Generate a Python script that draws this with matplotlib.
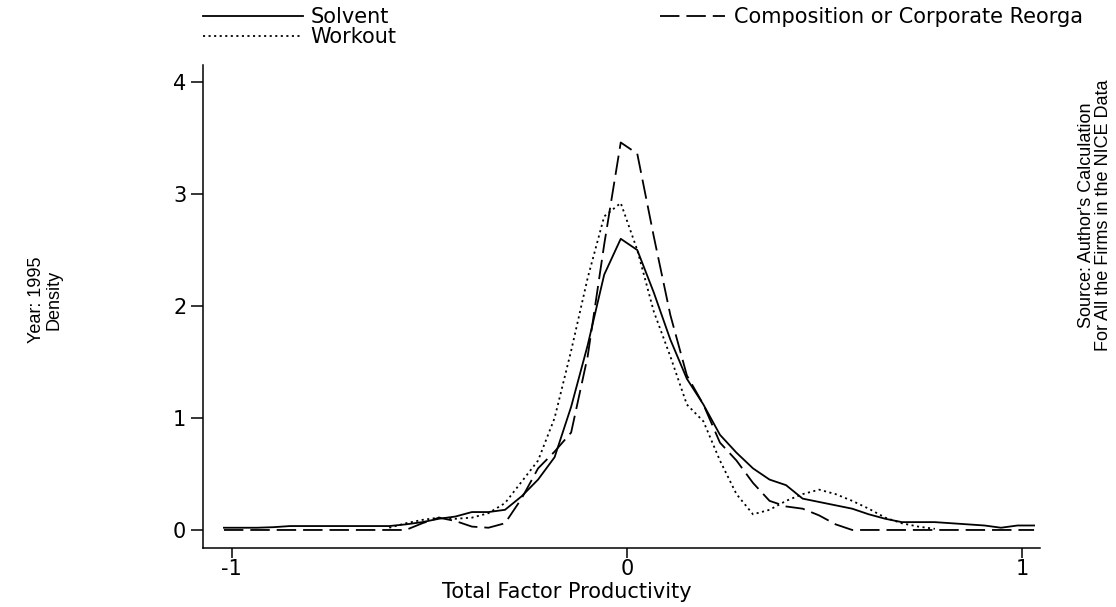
"""Kernel density of TFP by firm status, 1995 (Stata-style line chart)."""

import numpy as np
import matplotlib
matplotlib.use("Agg")
import matplotlib.pyplot as plt

plt.rcParams['font.family'] = ['DejaVu Sans']
plt.rcParams['lines.scale_dashes'] = False

# evaluation grid of the kernel density (50 points, as in Stata's kdensity)
tfp_min, tfp_max, n_points = -1.02, 1.031, 50
nan = float('nan')

solvent = [0.02, 0.02, 0.02, 0.025, 0.035, 0.035, 0.035, 0.035, 0.035, 0.035,
           0.035, 0.05, 0.07, 0.10, 0.12, 0.16, 0.16, 0.18, 0.30, 0.45,
           0.65, 1.10, 1.65, 2.28, 2.60, 2.50, 2.12, 1.70, 1.35, 1.12,
           0.85, 0.69, 0.55, 0.45, 0.40, 0.28, 0.25, 0.22, 0.19, 0.14,
           0.10, 0.07, 0.07, 0.07, 0.06, 0.05, 0.04, 0.02, 0.04, 0.04]

composition = [0.0, 0.0, 0.0, 0.0, 0.0, 0.0, 0.0, 0.0, 0.0, 0.0,
               0.0, 0.0, 0.06, 0.11, 0.08, 0.03, 0.02, 0.06, 0.28, 0.55,
               0.70, 0.87, 1.55, 2.55, 3.46, 3.36, 2.62, 1.92, 1.38, 1.12,
               0.78, 0.62, 0.42, 0.26, 0.21, 0.19, 0.13, 0.05, 0.0, 0.0,
               0.0, 0.0, 0.0, 0.0, 0.0, 0.0, 0.0, 0.0, 0.0, 0.0]

# workout firms cover a narrower TFP range (no estimate outside it)
workout = [nan, nan, nan, nan, nan, nan, nan, nan, nan, nan,
           0.02, 0.06, 0.09, 0.11, 0.10, 0.11, 0.15, 0.24, 0.43, 0.62,
           1.00, 1.60, 2.25, 2.80, 2.92, 2.50, 1.95, 1.55, 1.12, 0.97,
           0.62, 0.32, 0.14, 0.18, 0.26, 0.32, 0.36, 0.32, 0.26, 0.19,
           0.11, 0.06, 0.03, 0.01, nan, nan, nan, nan, nan, nan]

labels = ["Solvent", "Workout", "Composition or Corporate Reorga"]
x_ticks = [-1, 0, 1]
y_ticks = [0, 1, 2, 3, 4]

FS = 15          # horizontal texts (the original is stretched sideways)
FS_V = 13        # rotated texts
LW = 1.3
ARIAL = ['Liberation Sans', 'DejaVu Sans']

tfp = np.linspace(tfp_min, tfp_max, n_points)

fig = plt.figure(figsize=(11.16, 6.07), dpi=100)
ax = fig.add_axes([203 / 1116, 1 - 548 / 607, 837 / 1116, 483 / 607])

l_solv, = ax.plot(tfp, solvent, color='black', lw=LW, linestyle='-')
l_comp, = ax.plot(tfp, composition, color='black', lw=LW,
                  linestyle=(0, (14, 5)))
l_work, = ax.plot(tfp, workout, color='black', lw=LW,
                  linestyle=(0, (1.5, 2.5)))

ax.set_xlim(-1.073, 1.046)
ax.set_ylim(-0.161, 4.152)
ax.set_xticks(x_ticks)
ax.set_xticklabels([str(t) for t in x_ticks])
ax.set_yticks(y_ticks)
ax.set_yticklabels([str(t) for t in y_ticks])

for side in ('top', 'right'):
    ax.spines[side].set_visible(False)
for side in ('left', 'bottom'):
    ax.spines[side].set_linewidth(1.1)
ax.tick_params(direction='out', width=1.1, labelsize=FS)
ax.tick_params(axis='y', length=9, pad=3)
ax.tick_params(axis='x', length=7, pad=1)

# axis titles and side note
fig.text(567 / 1116, 1 - 592 / 607, "Total Factor Productivity",
         ha='center', va='center', fontsize=FS)
fig.text(45 / 1116, 1 - 300 / 607, "Year: 1995\nDensity", rotation=90,
         ha='center', va='center', multialignment='center',
         fontsize=FS_V, family=ARIAL, linespacing=1.0)
fig.text(1095 / 1116, 1 - 215 / 607,
         "Source: Author's Calculation\nFor All the Firms in the NICE Data",
         rotation=90, ha='center', va='center', multialignment='center',
         fontsize=FS_V, family=ARIAL, linespacing=1.0)

# legend: two keys on the left, one on the right
fig.legend([l_solv, l_work], labels[:2], loc='upper left',
           bbox_to_anchor=(203 / 1116, 1 - 7 / 607), frameon=False,
           fontsize=FS, handlelength=4.8, handletextpad=0.35,
           labelspacing=0.0, borderpad=0, borderaxespad=0)
fig.legend([l_comp], labels[2:], loc='upper left',
           bbox_to_anchor=(660 / 1116, 1 - 7 / 607), frameon=False,
           fontsize=FS, handlelength=3.1, handletextpad=0.45,
           borderpad=0, borderaxespad=0)

fig.savefig("out.png", dpi=100)
